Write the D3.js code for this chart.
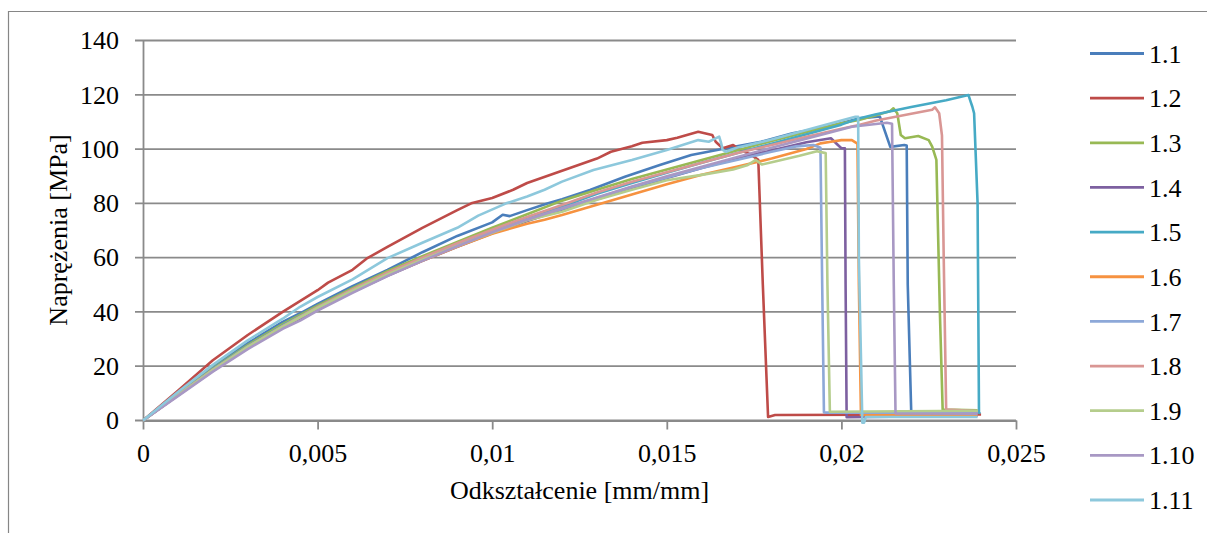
<!DOCTYPE html>
<html>
<head>
<meta charset="utf-8">
<script src="https://cdn.jsdelivr.net/npm/d3@7"></script>
<style>
  body { margin: 0; background: #fff; }
</style>
</head>
<body>
<svg id="chart"></svg>
<script>
// series names + colours (Excel-like palette)
const names = ["1.1", "1.2", "1.3", "1.4", "1.5", "1.6", "1.7", "1.8", "1.9", "1.10", "1.11"];
const colors = ["#4A7EBB", "#BE4B48", "#98B954", "#7D60A0", "#46AAC5", "#F69240",
                "#8DA8D8", "#D99694", "#B5CD8C", "#A898C4", "#8DC8DC"];

const yTicks = [0, 20, 40, 60, 80, 100, 120, 140];
const xTicks = [0, 0.005, 0.01, 0.015, 0.02, 0.025];
const xTickLabels = ["0", "0,005", "0,01", "0,015", "0,02", "0,025"];

// [strain, stress]
const s1_1 = [[0,0],[0.001,10],[0.002,19.8],[0.003,28.5],[0.004,36.3],[0.0045,39.5],[0.005,43],[0.006,49.5],[0.007,55.5],[0.008,62],[0.009,68],[0.01,73],[0.0103,75.8],[0.0105,75.3],[0.011,77.5],[0.0116,80],[0.012,81.5],[0.0128,84.9],[0.0138,89.8],[0.0148,94.1],[0.0157,97.8],[0.0167,100.3],[0.0177,102.7],[0.0186,105.8],[0.0196,108.2],[0.0205,111.3],[0.0211,112],[0.0214,100.8],[0.0218,101.5],[0.02187,101.3],[0.0219,50],[0.022,3],[0.0239,2.7]];
const s1_2 = [[0,0],[0.001,11],[0.002,22.2],[0.003,31.5],[0.004,40],[0.005,48],[0.0053,50.8],[0.006,55.5],[0.0064,59.6],[0.007,64],[0.008,71],[0.009,77.5],[0.0094,80],[0.01,82],[0.0106,85],[0.011,87.5],[0.012,92],[0.013,96.5],[0.0134,99],[0.014,101],[0.0143,102.3],[0.015,103.3],[0.0153,104.2],[0.0159,106.4],[0.0163,105.2],[0.0164,102.7],[0.0166,100.3],[0.0169,101.5],[0.0171,99.7],[0.0174,98],[0.01762,96],[0.01775,50],[0.0179,1.3],[0.0181,2],[0.024,2.2]];
const s1_3 = [[0,0],[0.001,9.6],[0.002,19.2],[0.003,27.8],[0.004,35.5],[0.005,42.3],[0.006,48.8],[0.007,55],[0.008,60.5],[0.009,65.8],[0.01,71],[0.011,76],[0.012,81],[0.013,85],[0.014,89],[0.015,92.5],[0.016,96],[0.017,99.5],[0.018,103],[0.019,106.3],[0.02,109.5],[0.0205,110.7],[0.021,112.5],[0.0214,114],[0.02149,115],[0.0216,113.2],[0.0217,105.2],[0.02182,104],[0.0222,104.8],[0.0225,103.3],[0.0226,100.9],[0.02272,96],[0.02282,40],[0.0229,4],[0.0239,3.8]];
const s1_4 = [[0,0],[0.001,9.2],[0.002,18.3],[0.003,26.7],[0.004,34.2],[0.005,41],[0.006,47.3],[0.007,53.3],[0.008,58.8],[0.009,64],[0.01,69],[0.011,73.5],[0.012,77.6],[0.013,81.5],[0.014,85.5],[0.015,89.3],[0.016,93],[0.017,96.5],[0.018,99.5],[0.019,102.5],[0.0197,104],[0.0199,101.5],[0.02,100.3],[0.0201,100.3],[0.02012,50],[0.02015,1.2],[0.0239,1.8]];
const s1_5 = [[0,0],[0.001,9.5],[0.002,19],[0.003,27.4],[0.004,35],[0.005,41.8],[0.006,48.2],[0.007,54.2],[0.008,59.7],[0.009,65],[0.01,70],[0.011,74.8],[0.012,78.8],[0.013,83.5],[0.014,87.5],[0.015,91.3],[0.016,95],[0.017,98.5],[0.018,102],[0.019,105.5],[0.02,109],[0.0205,111.3],[0.021,112.8],[0.022,115.5],[0.023,118],[0.02364,119.9],[0.0237,117.5],[0.02375,115.6],[0.0238,113.2],[0.0239,80],[0.02394,3],[0.02397,2.5]];
const s1_6 = [[0,0],[0.001,9.3],[0.002,18.5],[0.003,27],[0.004,34.5],[0.005,41.5],[0.006,47.8],[0.007,53.5],[0.008,58.8],[0.009,64],[0.01,68.8],[0.011,72.5],[0.0115,74],[0.012,75.7],[0.013,79.5],[0.014,83.3],[0.015,87],[0.016,90.5],[0.017,93.5],[0.018,96.5],[0.019,100],[0.0194,102.1],[0.0197,102.7],[0.02,103.3],[0.0203,103.3],[0.0204,102.5],[0.02046,102],[0.0205,50],[0.02056,2],[0.0239,2]];
const s1_7 = [[0,0],[0.001,9.3],[0.002,18.5],[0.003,27],[0.004,34.6],[0.005,41.5],[0.006,48],[0.007,54],[0.008,59.5],[0.009,64.8],[0.01,69.5],[0.011,74],[0.012,78],[0.013,82],[0.014,86],[0.015,89.5],[0.016,93],[0.017,96],[0.018,99],[0.0187,101],[0.0192,101.5],[0.0194,100.5],[0.01945,50],[0.0195,3],[0.01958,2.9],[0.0239,2.9]];
const s1_8 = [[0,0],[0.001,9.4],[0.002,18.8],[0.003,27.2],[0.004,34.8],[0.005,41.8],[0.006,48.3],[0.007,54.5],[0.008,60],[0.009,65.3],[0.01,70.3],[0.011,75],[0.012,79.4],[0.013,84],[0.014,88],[0.015,91.5],[0.016,95],[0.017,98.5],[0.018,101.5],[0.019,104.5],[0.02,107.5],[0.0205,108.9],[0.021,110.5],[0.022,113],[0.0226,114.5],[0.02268,115.4],[0.0228,113.2],[0.02288,105],[0.02293,60],[0.023,4],[0.0239,3.5]];
const s1_9 = [[0,0],[0.001,9.3],[0.002,18.6],[0.003,27.1],[0.004,34.6],[0.005,41.5],[0.006,47.8],[0.007,53.8],[0.008,59.2],[0.009,64.3],[0.01,69.2],[0.011,73.8],[0.012,76.9],[0.013,81.3],[0.014,85],[0.015,88.5],[0.016,90.5],[0.0169,92.5],[0.0173,94],[0.01755,96],[0.01772,94.3],[0.0181,95.4],[0.0188,97.5],[0.0193,99.2],[0.01955,98.5],[0.0196,50],[0.01967,3.2],[0.0239,3.6]];
const s1_10 = [[0,0],[0.001,9],[0.002,18],[0.003,26.3],[0.004,33.8],[0.0045,36.8],[0.005,40.5],[0.006,47],[0.007,53.2],[0.008,58.8],[0.009,64.2],[0.01,69.3],[0.011,74],[0.012,78.2],[0.013,82.2],[0.014,86.2],[0.015,90],[0.016,93.5],[0.017,97],[0.018,100.5],[0.0194,105.2],[0.0203,108.2],[0.0213,109.7],[0.02145,109.3],[0.0215,50],[0.02155,2.6],[0.0239,2.5]];
const s1_11 = [[0,0],[0.001,10.5],[0.002,20.5],[0.003,29.5],[0.004,37.5],[0.0045,41.9],[0.005,45.5],[0.006,52],[0.007,59.8],[0.008,65.5],[0.009,71],[0.0096,75.5],[0.0104,80],[0.011,82.5],[0.0115,85],[0.012,88],[0.0129,92.3],[0.014,96],[0.015,99.7],[0.0159,103.3],[0.0162,102.7],[0.0165,104.6],[0.01655,102.5],[0.0166,99.7],[0.0167,99],[0.017,100.5],[0.018,103.5],[0.019,107],[0.02,110.5],[0.0204,111.9],[0.02048,111.9],[0.0205,60],[0.0206,-0.8],[0.02065,-0.8],[0.0207,1.3],[0.0239,1.3]];

const data = [s1_1, s1_2, s1_3, s1_4, s1_5, s1_6, s1_7, s1_8, s1_9, s1_10, s1_11];

const width = 1207;
const height = 533;
const plotLeft = 143, plotRight = 1016, plotTop = 40.5, plotBottom = 420.5;
const serif = "'Liberation Serif', 'Times New Roman', Tinos, 'DejaVu Serif', serif";

const svg = d3.select("#chart")
    .attr("width", width)
    .attr("height", height)
    .attr("font-family", serif);

// outer chart frame (cut by the picture on right/bottom)
svg.append("path")
    .attr("d", `M8.5,${height} V11.5 H${width}`)
    .attr("fill", "none")
    .attr("stroke", "#868686")
    .attr("stroke-width", 1.2);

const x = d3.scaleLinear().domain([0, 0.025]).range([plotLeft, plotRight]);
const y = d3.scaleLinear().domain([0, 140]).range([plotBottom, plotTop]);

// horizontal grid lines (with the little outside tick)
svg.append("g")
    .selectAll("line")
    .data(yTicks)
    .enter()
    .append("line")
    .attr("x1", plotLeft - 8)
    .attr("x2", plotRight)
    .attr("y1", d => y(d))
    .attr("y2", d => y(d))
    .attr("stroke", "#8a8a8a")
    .attr("stroke-width", 1.8);

// y axis
const yAxis = d3.axisLeft(y).tickValues(yTicks).tickSize(0).tickPadding(24);
svg.append("g")
    .attr("transform", `translate(${plotLeft},0)`)
    .call(yAxis)
    .call(g => g.select(".domain").attr("stroke", "#8a8a8a").attr("stroke-width", 1.8))
    .call(g => g.selectAll("text").attr("fill", "#000")
        .attr("font-family", serif).attr("font-size", 26));

// x axis
const xAxis = d3.axisBottom(x).tickValues(xTicks).tickSize(9).tickSizeOuter(0)
    .tickPadding(14).tickFormat((d, i) => xTickLabels[i]);
svg.append("g")
    .attr("transform", `translate(0,${plotBottom})`)
    .call(xAxis)
    .call(g => g.select(".domain").attr("stroke", "#8a8a8a").attr("stroke-width", 1.8))
    .call(g => g.selectAll("line").attr("stroke", "#8a8a8a").attr("stroke-width", 1.8))
    .call(g => g.selectAll("text").attr("fill", "#000")
        .attr("font-family", serif).attr("font-size", 26));

// series
const line = d3.line().x(d => x(d[0])).y(d => y(d[1]));

svg.append("g")
    .selectAll("path")
    .data(data)
    .enter()
    .append("path")
    .attr("d", line)
    .attr("fill", "none")
    .attr("stroke", (d, i) => colors[i])
    .attr("stroke-width", 2.6)
    .attr("stroke-linejoin", "round");

// axis titles
svg.append("text")
    .attr("x", (plotLeft + plotRight) / 2)
    .attr("y", 499)
    .attr("text-anchor", "middle")
    .attr("font-family", serif)
    .attr("font-size", 26)
    .text("Odkształcenie [mm/mm]");

svg.append("text")
    .attr("transform", "translate(67,230) rotate(-90)")
    .attr("text-anchor", "middle")
    .attr("font-family", serif)
    .attr("font-size", 26)
    .text("Naprężenia [MPa]");

// legend
const legend = svg.append("g")
    .selectAll("g")
    .data(names)
    .enter()
    .append("g")
    .attr("transform", (d, i) => `translate(1090,${53.5 + i * 44.65})`);

legend.append("line")
    .attr("x1", 0)
    .attr("x2", 54)
    .attr("stroke", (d, i) => colors[i])
    .attr("stroke-width", 2.8);

legend.append("text")
    .attr("x", 59)
    .attr("dy", "0.35em")
    .attr("font-family", serif)
    .attr("font-size", 26)
    .text(d => d);
</script>
</body>
</html>
